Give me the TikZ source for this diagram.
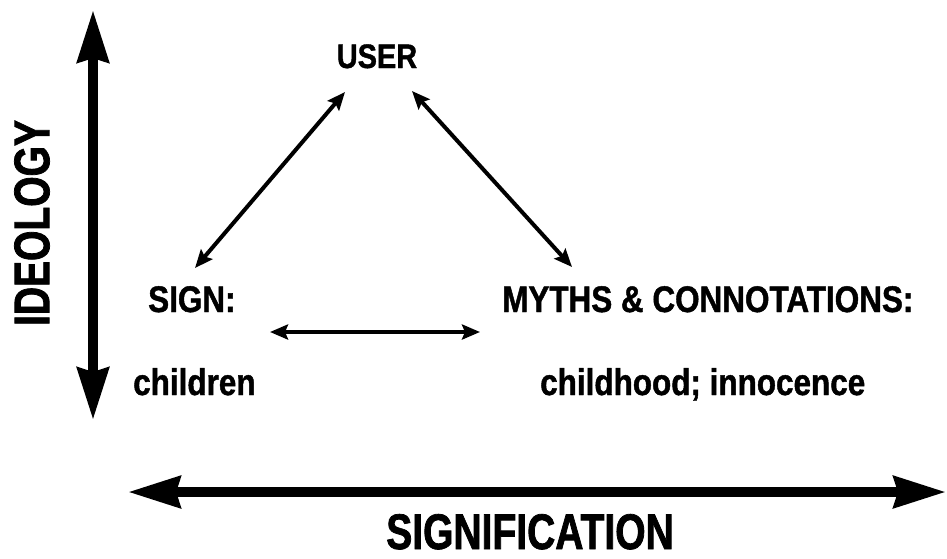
\documentclass[tikz,border=0pt]{standalone}
\usepackage{fontspec}
\setmainfont{Liberation Sans}[FakeStretch=0.85,BoldFeatures={FakeBold=1.2}]
\newfontfamily\axisfont{Liberation Sans}[FakeStretch=0.78,BoldFeatures={FakeBold=1.5}]
\usetikzlibrary{arrows.meta}
\begin{document}
\begin{tikzpicture}[x=1pt,y=-1pt,
  label/.style={inner sep=0pt,font=\bfseries\fontsize{37}{40}\selectfont},
  axislabel/.style={inner sep=0pt,font=\axisfont\bfseries\fontsize{50}{54}\selectfont},
  axis/.style={line width=10pt,{Stealth[length=52pt,width=31pt,inset=4pt]}-{Stealth[length=52pt,width=31pt,inset=4pt]}},
  link/.style={line width=4pt,{Stealth[length=18pt,width=15pt,inset=3pt]}-{Stealth[length=18pt,width=15pt,inset=3pt]}}
]
\useasboundingbox[fill=white] (0,0) rectangle (947,558);

% axes
\coordinate (ytop) at (93,10);
\coordinate (ybot) at (93,420);
\coordinate (xleft) at (128,492);
\coordinate (xright) at (946,492);
\draw[axis] (ytop) -- (ybot);
\draw[axis] (xleft) -- (xright);
\node[axislabel,rotate=90] (ideology) at (32,223) {IDEOLOGY};
\node[axislabel,anchor=base] (signification) at (530,549) {SIGNIFICATION};

% labels
\node[label,anchor=base,font=\bfseries\fontsize{34}{36}\selectfont] (user) at (377,68) {USER};
\node[label,anchor=base west] (sign) at (148,312) {SIGN:};
\node[label,anchor=base west] (signval) at (133,395) {children};
\node[label,anchor=base west] (myths) at (502,312) {MYTHS \& CONNOTATIONS:};
\node[label,anchor=base west] (mythval) at (540,395) {childhood; innocence};

% links between the three terms
\coordinate (ul) at (345,92);
\coordinate (sl) at (195,268);
\coordinate (ur) at (412,91);
\coordinate (mr) at (572,267);
\coordinate (ml) at (270,332);
\coordinate (mm) at (480,332);
\draw[link] (ul) -- (sl);
\draw[link] (ur) -- (mr);
\draw[link] (ml) -- (mm);
\end{tikzpicture}
\end{document}
